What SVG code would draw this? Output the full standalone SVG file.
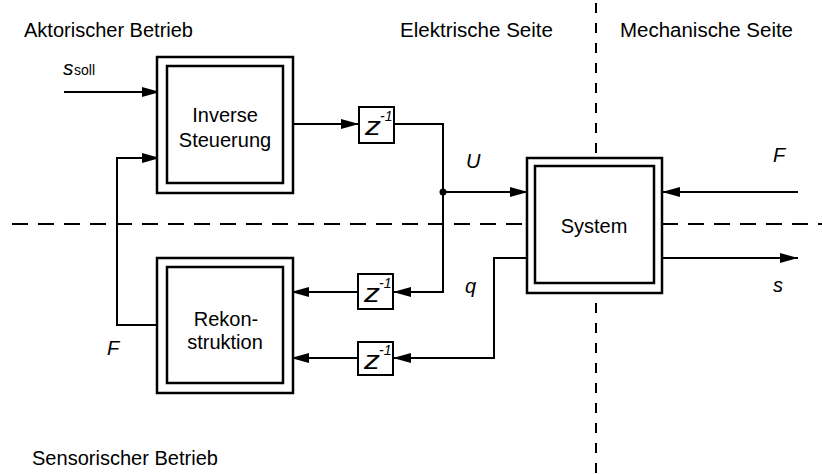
<svg xmlns="http://www.w3.org/2000/svg" width="822" height="474" viewBox="0 0 822 474">
<style>
text{font-family:"Liberation Sans",Arial,sans-serif;fill:#000}
.lbl{font-size:20px}
.it{font-style:italic}
.box{fill:#fff;stroke:#000;stroke-width:2.5}
.zb{fill:#fff;stroke:#000;stroke-width:2}
.z{font-style:italic;font-size:25px}
.sup{font-style:italic;font-size:14px}
.ln{fill:none;stroke:#000;stroke-width:2}
.dash{fill:none;stroke:#000;stroke-width:2}
</style>
<defs>
<marker id="ah" viewBox="0 0 18 10" refX="18" refY="5" markerWidth="18" markerHeight="10" markerUnits="userSpaceOnUse" orient="auto">
<path d="M0,0 L18,5 L0,10 z" fill="#000"/>
</marker>
</defs>
<g id="dividers">
<line class="dash" x1="12" y1="224" x2="822" y2="224" stroke-dasharray="16 10"/>
<line class="dash" x1="596" y1="3" x2="596" y2="474" stroke-dasharray="10 10"/>
</g>
<g id="labels">
<text class="lbl" x="24" y="37" textLength="169" lengthAdjust="spacingAndGlyphs">Aktorischer Betrieb</text>
<text class="lbl" x="400" y="37" textLength="153" lengthAdjust="spacingAndGlyphs">Elektrische Seite</text>
<text class="lbl" x="620" y="37" textLength="173" lengthAdjust="spacingAndGlyphs">Mechanische Seite</text>
<text class="lbl" x="32" y="465" textLength="186" lengthAdjust="spacingAndGlyphs">Sensorischer Betrieb</text>
</g>
<g id="connectors">
<line class="ln" x1="64" y1="92" x2="160" y2="92" marker-end="url(#ah)"/>
<polyline class="ln" points="157,325 117,325 117,158 160,158" marker-end="url(#ah)"/>
<line class="ln" x1="293" y1="124" x2="359" y2="124" marker-end="url(#ah)"/>
<polyline class="ln" points="394,124 443,124 443,292 393,292" marker-end="url(#ah)"/>
<line class="ln" x1="443" y1="192" x2="528" y2="192" marker-end="url(#ah)"/>
<circle cx="443" cy="192" r="3.5" fill="#000"/>
<line class="ln" x1="358" y1="292" x2="291" y2="292" marker-end="url(#ah)"/>
<polyline class="ln" points="527,258 494,258 494,358 393,358" marker-end="url(#ah)"/>
<line class="ln" x1="358" y1="358" x2="291" y2="358" marker-end="url(#ah)"/>
<line class="ln" x1="798" y1="192" x2="662" y2="192" marker-end="url(#ah)"/>
<line class="ln" x1="662" y1="258" x2="798" y2="258" marker-end="url(#ah)"/>
</g>
<g id="inverse">
<rect class="box" x="157" y="57" width="136" height="136"/>
<rect class="box" x="167" y="66" width="116" height="117"/>
<text class="lbl" x="225" y="122" text-anchor="middle">Inverse</text>
<text class="lbl" x="225" y="147" text-anchor="middle">Steuerung</text>
</g>
<g id="rekonstruktion">
<rect class="box" x="157" y="258" width="136" height="135"/>
<rect class="box" x="167" y="267" width="116" height="116"/>
<text class="lbl" x="226" y="326" text-anchor="middle">Rekon-</text>
<text class="lbl" x="225" y="349" text-anchor="middle">struktion</text>
</g>
<g id="system">
<rect class="box" x="527" y="158" width="135" height="135"/>
<rect class="box" x="535" y="166" width="119" height="117"/>
<text class="lbl" x="594" y="233" text-anchor="middle">System</text>
</g>
<g id="z1">
<rect class="zb" x="359" y="107" width="35" height="36"/>
<text class="z" x="365" y="135" textLength="16" lengthAdjust="spacingAndGlyphs">z</text>
<text class="sup" x="380" y="121">-1</text>
</g>
<g id="z2">
<rect class="zb" x="358" y="274" width="35" height="35"/>
<text class="z" x="364" y="302" textLength="16" lengthAdjust="spacingAndGlyphs">z</text>
<text class="sup" x="379" y="288">-1</text>
</g>
<g id="z3">
<rect class="zb" x="358" y="342" width="35" height="33"/>
<text class="z" x="364" y="369" textLength="16" lengthAdjust="spacingAndGlyphs">z</text>
<text class="sup" x="379" y="355">-1</text>
</g>
<g id="signals">
<text x="63" y="75" class="it" font-size="21">s</text><text x="74" y="75" font-size="14">soll</text>
<text class="lbl it" x="466" y="168">U</text>
<text class="lbl it" x="465" y="293">q</text>
<text class="lbl it" x="773" y="162">F</text>
<text class="lbl it" x="773" y="292">s</text>
<text class="lbl it" x="107" y="355">F</text>
</g>
</svg>
